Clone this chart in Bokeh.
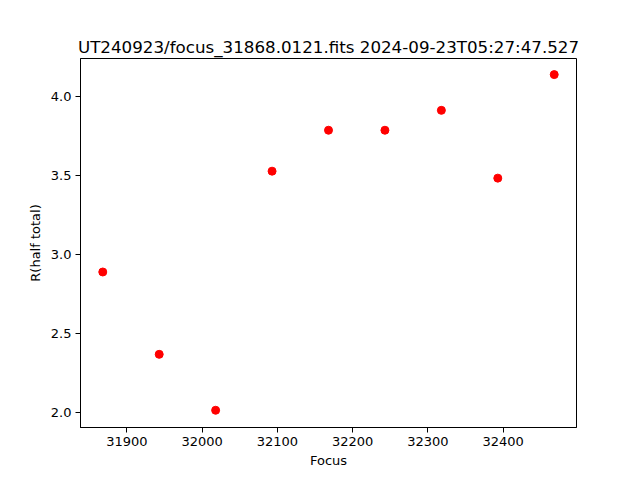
from bokeh.plotting import figure
from bokeh.models import FixedTicker, Range1d, NumeralTickFormatter
from bokeh.embed import file_html
from bokeh.resources import INLINE

focus = [31868, 31943, 32018, 32093, 32168, 32243, 32318, 32393, 32468]
r_half = [2.887, 2.366, 2.012, 3.525, 3.784, 3.784, 3.910, 3.481, 4.136]
x_ticks = [31900, 32000, 32100, 32200, 32300, 32400]
y_ticks = [2.0, 2.5, 3.0, 3.5, 4.0]
title = "UT240923/focus_31868.0121.fits 2024-09-23T05:27:47.527"

p = figure(width=624, height=472, output_backend="svg", toolbar_location=None,
           x_range=Range1d(31838.4, 32497.6), y_range=Range1d(1.903, 4.238),
           min_border_left=80, min_border_right=48, min_border_top=58, min_border_bottom=45)

p.title.text = title
p.title.align = "center"
p.title.text_font = "DejaVu Sans"
p.title.text_font_size = "16.7px"
p.title.text_font_style = "normal"
p.title.text_color = "black"
p.title.offset = 0
p.title.standoff = 4

p.scatter(focus, r_half, size=8, color="red", line_color="red")

p.xgrid.visible = False
p.ygrid.visible = False
p.outline_line_color = "black"
p.outline_line_width = 1
p.outline_line_alpha = 1

for ax in (p.xaxis[0], p.yaxis[0]):
    ax.major_label_text_font = "DejaVu Sans"
    ax.major_label_text_font_size = "13px"
    ax.major_label_text_color = "black"
    ax.axis_label_text_font = "DejaVu Sans"
    ax.axis_label_text_font_size = "13px"
    ax.axis_label_text_font_style = "normal"
    ax.axis_label_text_color = "black"
    ax.minor_tick_line_color = None
    ax.major_tick_out = 5
    ax.major_tick_in = 0
    ax.major_tick_line_color = "black"
    ax.axis_line_color = "black"
    ax.major_label_standoff = 4

p.xaxis.ticker = FixedTicker(ticks=x_ticks)
p.yaxis.ticker = FixedTicker(ticks=y_ticks)
p.yaxis.formatter = NumeralTickFormatter(format="0.0")
p.xaxis.formatter = NumeralTickFormatter(format="0")
p.xaxis.axis_label = "Focus"
p.yaxis.axis_label = "R(half total)"
p.xaxis.axis_label_standoff = 4
p.yaxis.axis_label_standoff = 5

open("out.html", "w").write(file_html(p, INLINE))
